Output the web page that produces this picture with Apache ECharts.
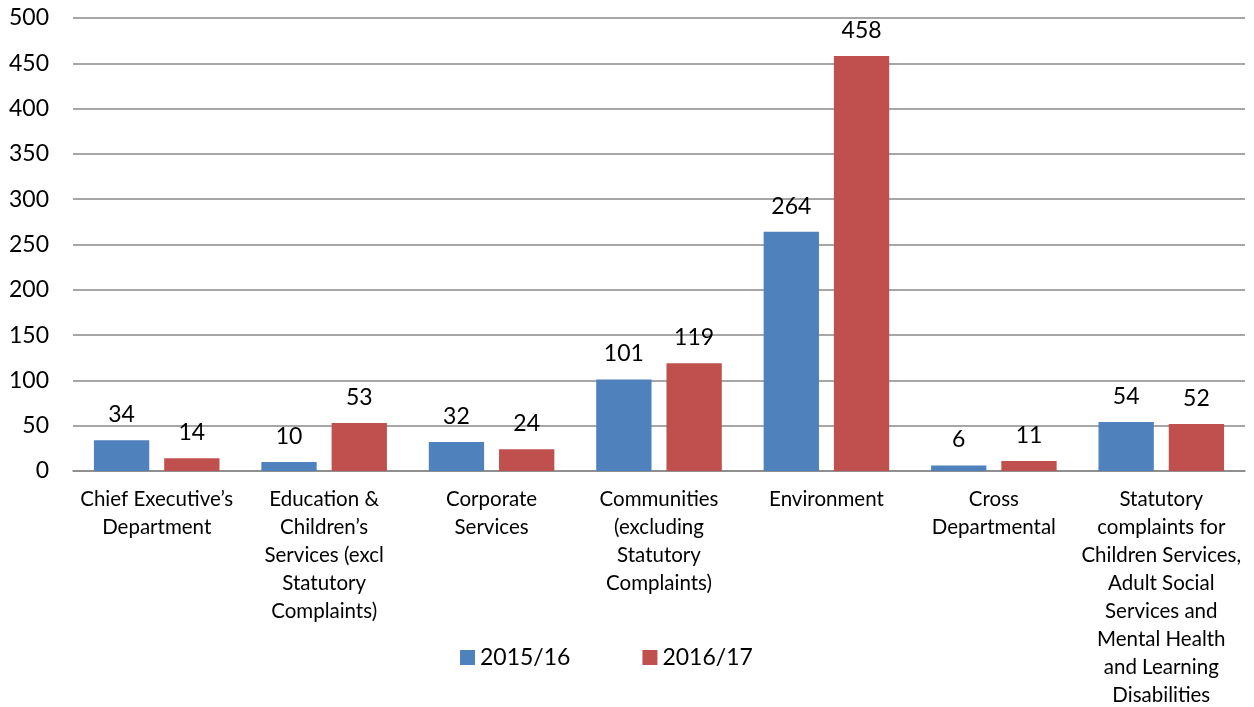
<!DOCTYPE html>
<html>
<head>
<meta charset="utf-8">
<script src="https://cdn.jsdelivr.net/npm/echarts@6/dist/echarts.min.js"></script>
<style>
  html, body { margin: 0; padding: 0; background: #fff; }
  #chart-container { width: 1254px; height: 707px; }
</style>
</head>
<body>
<div id="chart-container"></div>
<script>
var categories = [
  "Chief Executive\u2019s\nDepartment",
  "Education &\nChildren\u2019s\nServices (excl\nStatutory\nComplaints)",
  "Corporate\nServices",
  "Communities\n(excluding\nStatutory\nComplaints)",
  "Environment",
  "Cross\nDepartmental",
  "Statutory\ncomplaints for\nChildren Services,\nAdult Social\nServices and\nMental Health\nand Learning\nDisabilities"
];
var values2015 = [34, 10, 32, 101, 264, 6, 54];
var values2016 = [14, 53, 24, 119, 458, 11, 52];
var seriesNames = ["2015/16", "2016/17"];

var chartDom = document.getElementById('chart-container');
var myChart = echarts.init(chartDom);
var font = 'Lato, "Open Sans", sans-serif';
var textColor = '#000';

var option = {
  animation: false,
  textStyle: { fontFamily: font },
  legend: {
    data: seriesNames,
    left: 455,
    top: 641,
    itemWidth: 15,
    itemHeight: 15,
    itemGap: 72,
    icon: 'rect',
    textStyle: { fontFamily: font, fontSize: 23, color: textColor }
  },
  grid: { left: 73, right: 9, top: 18, bottom: 236, outerBoundsMode: 'none' },
  xAxis: {
    type: 'category',
    data: categories,
    axisLine: { show: true, lineStyle: { color: '#888', width: 1.5 } },
    axisTick: { show: false },
    axisLabel: {
      interval: 0,
      color: textColor,
      fontFamily: font,
      fontSize: 20.5,
      lineHeight: 28,
      margin: 14
    }
  },
  yAxis: {
    type: 'value',
    min: 0,
    max: 500,
    interval: 50,
    axisLine: { show: false },
    axisTick: { show: false },
    splitLine: { lineStyle: { color: '#888', width: 1.5 } },
    axisLabel: { color: textColor, fontFamily: font, fontSize: 23, margin: 24 }
  },
  series: [
    {
      name: seriesNames[0],
      type: 'bar',
      data: values2015,
      barGap: '27%',
      barCategoryGap: '25%',
      itemStyle: { color: '#4F81BD' },
      label: { show: true, position: 'top', distance: 14, fontSize: 23, color: textColor, fontFamily: font }
    },
    {
      name: seriesNames[1],
      type: 'bar',
      data: values2016,
      itemStyle: { color: '#C0504D' },
      label: { show: true, position: 'top', distance: 14, fontSize: 23, color: textColor, fontFamily: font }
    }
  ]
};

option && myChart.setOption(option);
</script>
</body>
</html>
